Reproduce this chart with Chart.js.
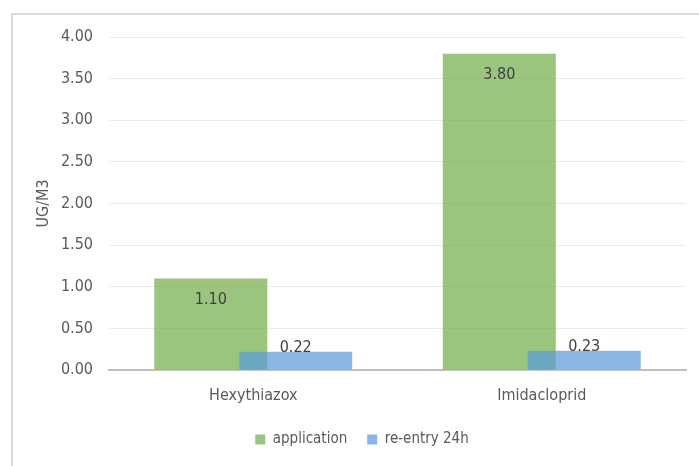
<!DOCTYPE html>
<html>
<head>
<meta charset="utf-8">
<script src="https://cdn.jsdelivr.net/npm/chart.js@4.4.0/dist/chart.umd.min.js"></script>
<style>
  html, body { margin: 0; padding: 0; background: #fff; }
  #wrap { position: relative; width: 699px; height: 466px; overflow: hidden; }
  #frame { position: absolute; left: 11px; top: 13px; right: -4px; bottom: -4px;
           border-top: 2px solid #d9d9d9; border-left: 2px solid #d9d9d9; }
  canvas { position: absolute; left: 0; top: 0; }
</style>
</head>
<body>
<div id="wrap">
  <div id="frame"></div>
  <canvas id="c" width="699" height="466"></canvas>
</div>
<script>
// Measured concentrations (µg/m³)
const categories = ['Hexythiazox', 'Imidacloprid'];
const application = [1.10, 3.80];
const reentry24h = [0.22, 0.23];
const seriesNames = ['application', 're-entry 24h'];
const yMin = 0, yMax = 4, yStep = 0.5;

Chart.defaults.font.family = "'DejaVu Sans Condensed', 'DejaVu Sans', sans-serif";
Chart.defaults.color = '#595959';

// Draw datasets first-to-last so the second series sits over the first where they overlap
const forwardDraw = {
  id: 'forwardDraw',
  beforeDatasetsDraw(chart) {
    chart.getSortedVisibleDatasetMetas().forEach(m => m.controller.draw());
    return false;
  }
};

// Value labels at the inside end of each bar (above the bar when it is too short)
const valueLabels = {
  id: 'valueLabels',
  afterDraw(chart) {
    const ctx = chart.ctx;
    ctx.save();
    ctx.font = "16px 'DejaVu Sans Condensed', 'DejaVu Sans', sans-serif";
    ctx.fillStyle = '#404040';
    ctx.textAlign = 'center';
    ctx.textBaseline = 'middle';
    chart.data.datasets.forEach((ds, di) => {
      const meta = chart.getDatasetMeta(di);
      meta.data.forEach((bar, i) => {
        const h = bar.base - bar.y;
        const y = h >= 40 ? bar.y + 21 : bar.y - 4;
        ctx.fillText(ds.data[i].toFixed(2), bar.x, y);
      });
    });
    ctx.restore();
  }
};

new Chart(document.getElementById('c'), {
  type: 'bar',
  data: {
    labels: categories,
    datasets: [
      { label: seriesNames[0], data: application,
        backgroundColor: 'rgba(112,173,71,0.70)', borderWidth: 0 },
      { label: seriesNames[1], data: reentry24h,
        backgroundColor: 'rgba(91,155,213,0.72)', borderWidth: 0 }
    ]
  },
  options: {
    responsive: false,
    animation: false,
    devicePixelRatio: 1,
    categoryPercentage: 0.589,
    barPercentage: 1.33,
    layout: { padding: { left: 38, right: 13, top: 37, bottom: 9 } },
    plugins: {
      legend: {
        position: 'bottom',
        labels: {
          boxWidth: 10, boxHeight: 10, padding: 20,
          color: '#595959',
          font: { size: 15, lineHeight: 1 }
        }
      },
      tooltip: { enabled: false }
    },
    scales: {
      x: {
        grid: { display: false },
        border: { display: true, color: '#bfbfbf', width: 2 },
        ticks: { color: '#595959', font: { size: 16 }, padding: 8 },
        afterFit(scale) { scale.height = 42; }
      },
      y: {
        min: yMin, max: yMax,
        grid: { color: '#ebebeb', lineWidth: 1, drawTicks: false },
        border: { display: false },
        ticks: { stepSize: yStep, color: '#595959', font: { size: 16 }, padding: 16,
                 callback: v => Number(v).toFixed(2) },
        title: { display: true, text: 'UG/M3', color: '#595959',
                 font: { size: 16, lineHeight: 1 }, padding: { top: -2, bottom: 0 } },
        afterFit(scale) { scale.width = 71; }
      }
    }
  },
  plugins: [forwardDraw, valueLabels]
});
</script>
</body>
</html>
